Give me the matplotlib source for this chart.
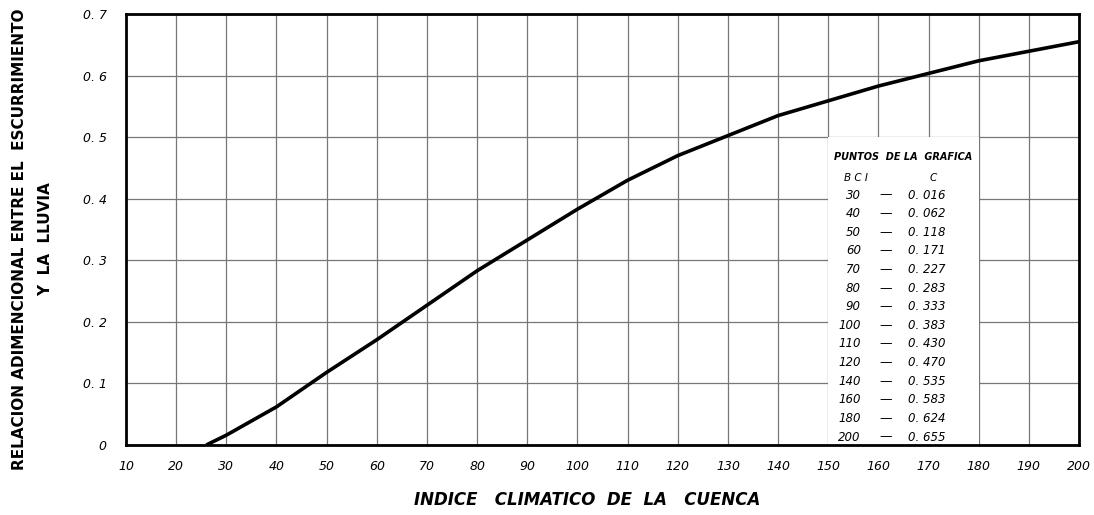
import matplotlib.pyplot as plt
from matplotlib.patches import Rectangle

bci = [26, 30, 40, 50, 60, 70, 80, 90, 100, 110, 120, 140, 160, 180, 200]
c = [0.0, 0.016, 0.062, 0.118, 0.171, 0.227, 0.283, 0.333, 0.383,
     0.430, 0.470, 0.535, 0.583, 0.624, 0.655]

# Tabla "PUNTOS DE LA GRAFICA"
table_bci = ['30', '40', '50', '60', '70', '80', '90', '100', '110',
             '120', '140', '160', '180', '200']
table_c = ['0. 016', '0. 062', '0. 118', '0. 171', '0. 227', '0. 283', '0. 333',
           '0. 383', '0. 430', '0. 470', '0. 535', '0. 583', '0. 624', '0. 655']

x_ticks = list(range(10, 201, 10))
y_ticks = [0, 0.1, 0.2, 0.3, 0.4, 0.5, 0.6, 0.7]
y_labels = ['0', '0. 1', '0. 2', '0. 3', '0. 4', '0. 5', '0. 6', '0. 7']

fig = plt.figure(figsize=(10.94, 5.15), dpi=100)
ax = fig.add_axes([0.1152, 0.1359, 0.9863 - 0.1152, 0.9728 - 0.1359])

ax.set_xlim(10, 200)
ax.set_ylim(0, 0.7)
ax.set_xticks(x_ticks)
ax.set_xticklabels([str(v) for v in x_ticks], fontsize=9, fontstyle='italic')
ax.set_yticks(y_ticks)
ax.set_yticklabels(y_labels, fontsize=9, fontstyle='italic')
ax.tick_params(axis='x', length=0, pad=11)
ax.tick_params(axis='y', length=0, pad=14)

ax.grid(True, color='#777777', linewidth=0.9, zorder=1)
ax.set_axisbelow(True)
for s in ax.spines.values():
    s.set_linewidth(2.0)
    s.set_color('black')

# recuadro blanco de la tabla (tapa la reticula)
ax.add_patch(Rectangle((150, 0), 30, 0.5, facecolor='white', edgecolor='none', zorder=2))

ax.plot(bci, c, color='black', linewidth=2.6, zorder=4, solid_capstyle='butt')

# tabla de puntos
ax.text(165, 0.467, 'PUNTOS  DE LA  GRAFICA', fontsize=7, fontstyle='italic',
        fontweight='bold', ha='center', va='center', zorder=5)
ax.text(155.5, 0.433, 'B C I', fontsize=7.5, fontstyle='italic', ha='center', va='center', zorder=5)
ax.text(171, 0.433, 'C', fontsize=7.5, fontstyle='italic', ha='center', va='center', zorder=5)
row_top = 0.406
row_step = (0.406 - 0.013) / 13
for i, (b, v) in enumerate(zip(table_bci, table_c)):
    yy = row_top - i * row_step
    ax.text(156.5, yy, b, fontsize=8.5, fontstyle='italic', ha='right', va='center', zorder=5)
    ax.text(161.5, yy, '\u2014', fontsize=9, ha='center', va='center', zorder=5)
    ax.text(166.0, yy, v, fontsize=8.5, fontstyle='italic', ha='left', va='center', zorder=5)

fig.text(0.018, 0.535, 'RELACION ADIMENCIONAL ENTRE EL  ESCURRIMIENTO',
         rotation=90, fontsize=11, fontweight='semibold',
         ha='center', va='center')
fig.text(0.042, 0.535, 'Y  LA  LLUVIA', rotation=90, fontsize=11,
         fontweight='bold', ha='center', va='center')
fig.text(0.537, 0.03, 'INDICE   CLIMATICO  DE  LA   CUENCA', fontsize=12,
         fontstyle='italic', fontweight='semibold', ha='center', va='center')

fig.savefig('out.png', dpi=100)
